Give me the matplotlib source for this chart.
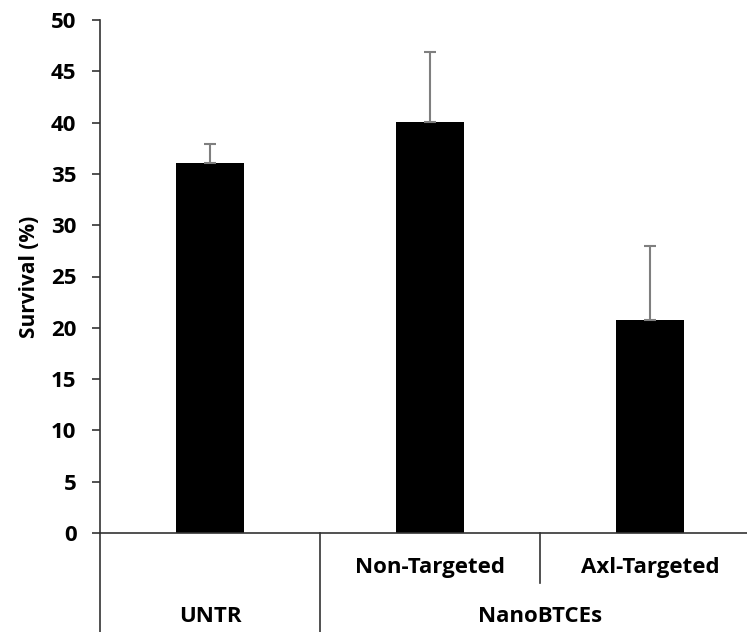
import matplotlib
matplotlib.use('Agg')
import matplotlib.pyplot as plt

plt.rcParams['font.family'] = ['Open Sans', 'DejaVu Sans']
plt.rcParams['font.weight'] = 'bold'

# data
categories = ['UNTR', 'Non-Targeted', 'Axl-Targeted']
survival = [36.1, 40.1, 20.8]
err_upper = [1.8, 6.8, 7.2]
group_names = ['UNTR', 'NanoBTCEs']
group_spans = [(-0.5, 0.5), (0.5, 2.5)]
yticks = list(range(0, 55, 5))

AXIS_COLOR = '#333333'

fig = plt.figure(figsize=(7.47, 6.32), dpi=100)
ax = fig.add_axes([100 / 747, 1 - 533 / 632, 647 / 747, 513 / 632])

x = list(range(len(categories)))
ax.bar(x, survival, width=0.31, color='black', zorder=2)
ax.errorbar(x, survival, yerr=[[0] * len(x), err_upper], fmt='none',
            ecolor='#7f7f7f', elinewidth=1.5, capsize=4.5, capthick=1.5, zorder=3)

ax.set_xlim(-0.5, 2.441)
ax.set_ylim(0, 50)
ax.set_yticks(yticks)
ax.set_yticklabels([str(t) for t in yticks], fontweight='bold')
ax.tick_params(axis='y', direction='out', length=6, width=1.2, color=AXIS_COLOR,
               labelsize=16, pad=11)
ax.set_xticks([])
ax.set_ylabel('Survival (%)', fontsize=15, fontweight='bold', labelpad=8)

for side in ['top', 'right']:
    ax.spines[side].set_visible(False)
for side in ['left', 'bottom']:
    ax.spines[side].set_color(AXIS_COLOR)
    ax.spines[side].set_linewidth(1.2)

# hierarchical category axis below the plot
trans = ax.get_xaxis_transform()
below = 99 / 513
ax.plot([-0.5, -0.5], [0, -below], transform=trans, color=AXIS_COLOR, lw=1.2, clip_on=False)
ax.plot([0.5, 0.5], [0, -below], transform=trans, color=AXIS_COLOR, lw=1.2, clip_on=False)
ax.plot([1.5, 1.5], [0, -50 / 513], transform=trans, color=AXIS_COLOR, lw=1.2, clip_on=False)

for i, name in enumerate(categories[1:], start=1):
    ax.text(i, -34 / 513, name, transform=trans, ha='center', va='center',
            fontsize=16, fontweight='bold')
for name, (a, b) in zip(group_names, group_spans):
    ax.text((a + b) / 2, -84 / 513, name, transform=trans, ha='center', va='center',
            fontsize=16, fontweight='bold')

fig.savefig('out.png', dpi=100)
